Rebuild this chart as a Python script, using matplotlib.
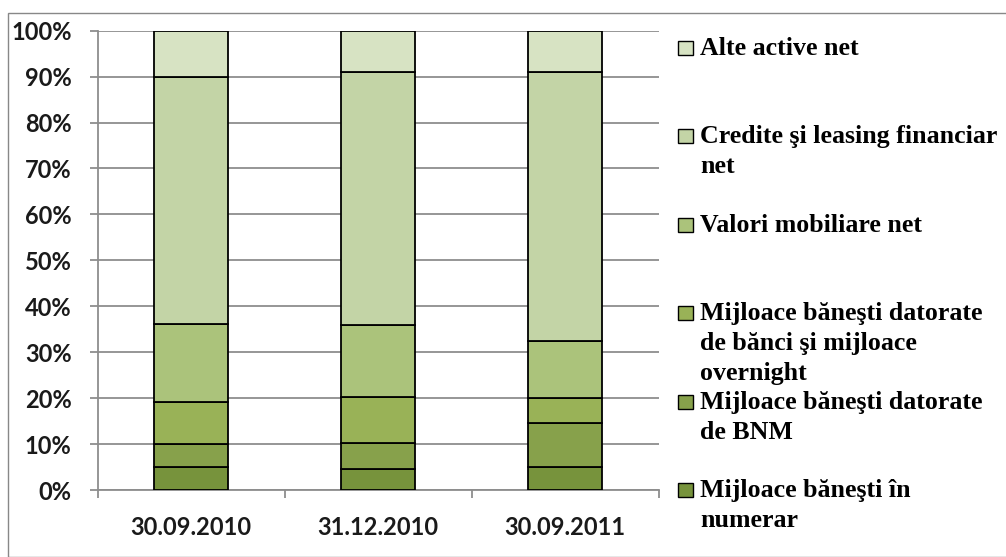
import matplotlib
matplotlib.use("Agg")
import matplotlib.pyplot as plt
from matplotlib.patches import Rectangle
from matplotlib.ticker import FuncFormatter

categories = ["30.09.2010", "31.12.2010", "30.09.2011"]

series_names = [
    "Mijloace băneşti în\nnumerar",
    "Mijloace băneşti datorate\nde BNM",
    "Mijloace băneşti datorate\nde bănci şi mijloace\novernight",
    "Valori mobiliare net",
    "Credite şi leasing financiar\nnet",
    "Alte active net",
]
numerar = [5.1, 4.5, 5.1]
bnm = [4.9, 5.7, 9.4]
banci = [9.1, 10.0, 5.5]
valori = [17.1, 15.8, 12.5]
credite = [53.8, 55.0, 58.5]
alte = [10.0, 9.0, 9.0]
series_values = [numerar, bnm, banci, valori, credite, alte]

colors = ["#77933C", "#87A14B", "#99B257", "#ABC37B", "#C3D4A6", "#D7E3C3"]

W, H = 1006, 557
fig = plt.figure(figsize=(W / 100, H / 100), dpi=100)

# outer chart border
fig.patches.append(Rectangle((8 / W, 0), 1.0, 1 - 13 / H, transform=fig.transFigure,
                             fill=False, edgecolor="#888888", lw=1.0))

ax = fig.add_axes([97.5 / W, 1 - 490 / H, (658.5 - 97.5) / W, (490 - 30.7) / H])

x = list(range(len(categories)))
bottoms = [0.0] * len(categories)
for vals, col in zip(series_values, colors):
    fr = [v / 100 for v in vals]
    ax.bar(x, fr, width=0.4, bottom=bottoms, color=col, edgecolor="black",
           linewidth=1.3, zorder=3)
    bottoms = [b + f for b, f in zip(bottoms, fr)]

ax.set_ylim(0, 1)
ax.set_xlim(-0.5, len(categories) - 0.5)
ax.set_yticks([i / 10 for i in range(11)])
ax.yaxis.set_major_formatter(FuncFormatter(lambda v, p: f"{round(v * 100)}%"))
ax.yaxis.grid(True, color="#8E8E8E", lw=1.3, zorder=0)
ax.set_axisbelow(True)

ax.set_xticks(x)
ax.set_xticklabels(categories)
ax.set_xticks([i - 0.5 for i in range(len(categories) + 1)], minor=True)

for s in ["top", "right"]:
    ax.spines[s].set_visible(False)
for s in ["left", "bottom"]:
    ax.spines[s].set_color("#8E8E8E")
    ax.spines[s].set_linewidth(1.3)

ax.tick_params(axis="x", which="major", length=0, pad=18.5)
ax.tick_params(axis="x", which="minor", length=6, width=1.3, color="#8E8E8E")
ax.tick_params(axis="y", length=6, width=1.3, color="#8E8E8E", pad=12.6)
for lab in ax.get_xticklabels() + ax.get_yticklabels():
    lab.set_fontfamily("Lato")
    lab.set_fontweight("bold")
    lab.set_fontsize(17)
    lab.set_color("#1a1a1a")

# legend (top to bottom: reverse series order)
base0, step, line_h = 55, 88.4, 30
for i, (name, col) in enumerate(zip(series_names[::-1], colors[::-1])):
    b = base0 + i * step
    fig.patches.append(Rectangle((678 / W, 1 - b / H), 15 / W, 14 / H,
                                 transform=fig.transFigure, facecolor=col,
                                 edgecolor="black", lw=1.0))
    for j, line in enumerate(name.split("\n")):
        fig.text(700 / W, 1 - (b + j * line_h) / H, line, ha="left", va="baseline",
                 fontfamily="Liberation Serif", fontweight="bold", fontsize=18.6,
                 color="black")

fig.savefig("out.png", dpi=100)
